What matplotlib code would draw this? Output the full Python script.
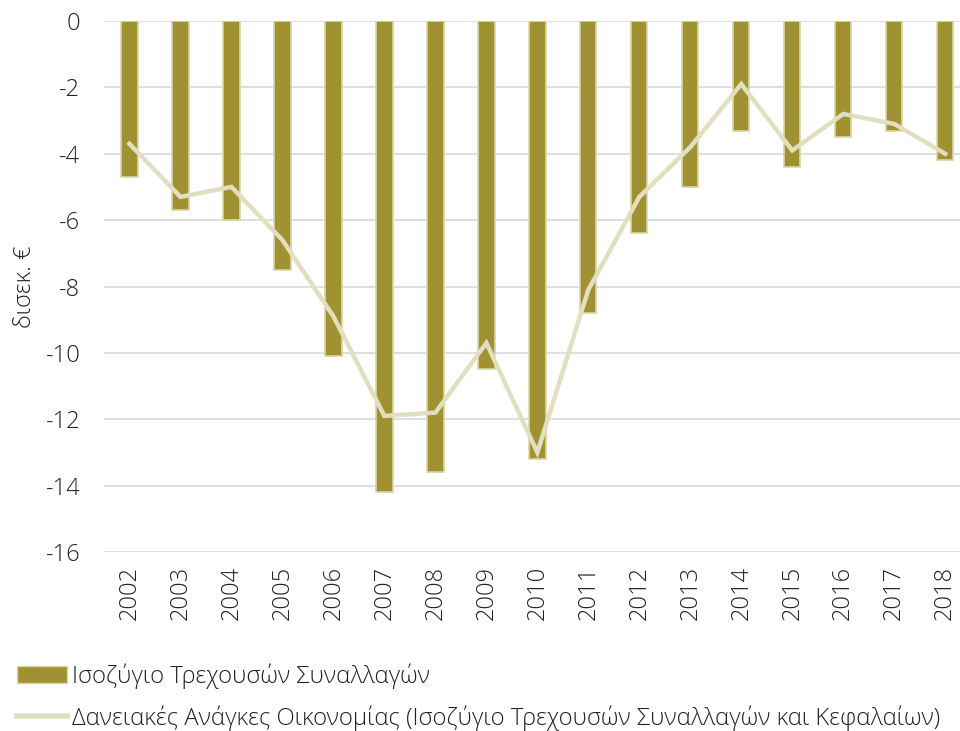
import matplotlib.pyplot as plt
from matplotlib.patches import Patch
from matplotlib.lines import Line2D
import numpy as np

plt.rcParams['font.family'] = ['Open Sans', 'DejaVu Sans']
plt.rcParams['font.weight'] = 'light'

# Données (δισεκ. €)
years = ['2002', '2003', '2004', '2005', '2006', '2007', '2008', '2009', '2010',
         '2011', '2012', '2013', '2014', '2015', '2016', '2017', '2018']
current_account = [-4.7, -5.7, -6.0, -7.5, -10.1, -14.2, -13.6, -10.5, -13.2,
                   -8.8, -6.4, -5.0, -3.3, -4.4, -3.5, -3.3, -4.2]
borrowing_needs = [-3.7, -5.3, -5.0, -6.6, -8.9, -11.9, -11.8, -9.7, -13.0,
                   -8.1, -5.3, -3.8, -1.9, -3.9, -2.8, -3.1, -4.0]
yticks = [0, -2, -4, -6, -8, -10, -12, -14, -16]

bar_col = '#A09232'
bar_edge = '#D9D5A6'
line_col = '#E2DFC1'
txt_col = '#222222'

fig = plt.figure(figsize=(9.6, 7.31), dpi=100)
ax = fig.add_axes([104/960, 1 - 552/731, 1 - 104/960, (552 - 21)/731])

x = np.arange(len(years))
ax.bar(x, current_account, width=0.32, color=bar_col, edgecolor=bar_edge, linewidth=1.2, zorder=2)
ax.plot(x, borrowing_needs, color=line_col, linewidth=3.2, solid_joinstyle='miter', zorder=3)

ax.set_ylim(-16, 0)
ax.set_xlim(-0.5, 16.29)
ax.set_yticks(yticks)
ax.set_yticklabels([str(v) for v in yticks])
ax.set_xticks(x)
ax.set_xticklabels(years, rotation=90)
ax.tick_params(axis='both', length=0, labelsize=17, labelcolor=txt_col)
ax.tick_params(axis='x', pad=10)
ax.tick_params(axis='y', pad=17)
ax.grid(axis='y', color='#D9D9D9', linewidth=1.2, zorder=0)
for s in ax.spines.values():
    s.set_visible(False)

ax.set_ylabel('δισεκ. €', fontsize=17, fontweight='light', color=txt_col, labelpad=6)

handles = [Patch(facecolor=bar_col, edgecolor=bar_edge),
           Line2D([0], [0], color=line_col, linewidth=4)]
labels = ['Ισοζύγιο Τρεχουσών Συναλλαγών',
          'Δανειακές Ανάγκες Οικονομίας (Ισοζύγιο Τρεχουσών Συναλλαγών και Κεφαλαίων)']
fig.legend(handles, labels, loc='upper left', bbox_to_anchor=(0.010, 0.102),
           frameon=False, fontsize=17.2, handlelength=2.1, handletextpad=0.2,
           labelspacing=0.68, borderaxespad=0, borderpad=0.3, labelcolor=txt_col)

plt.savefig('out.png', dpi=100)
